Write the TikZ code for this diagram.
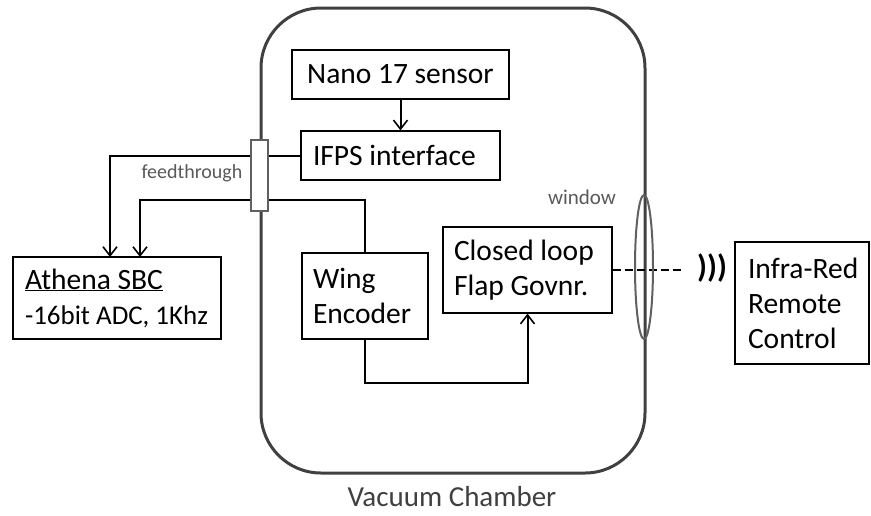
\documentclass[tikz,border=0pt]{standalone}
\usepackage{fontspec}
\setmainfont{Carlito}
\usetikzlibrary{arrows.meta,shapes.geometric}
\definecolor{wallgray}{HTML}{404040}
\definecolor{labelgray}{HTML}{595959}
\definecolor{partgray}{HTML}{606060}
\tikzset{
  unitbox/.style={draw=black, line width=1.2pt, fill=white, inner sep=0pt,
    font=\fontsize{29.5}{35}\selectfont,
    execute at begin node={\spaceskip=0pt\xspaceskip=0pt\hbadness=10000\hfuzz=50pt}},
  wire/.style={draw=black, line width=2pt},
  tip/.style={-{Straight Barb[length=9pt,width=14pt,line width=1.6pt]}},
  smalllabel/.style={text=labelgray, inner sep=0pt},
}
\begin{document}
\begin{tikzpicture}[x=1pt,y=-1pt]
\useasboundingbox (0,0) rectangle (871,515);

% vacuum chamber wall
\draw[wallgray, line width=3pt, rounded corners=60pt] (261,8) rectangle (645,473);
\node[text=wallgray, font=\fontsize{29}{34}\selectfont] (chamberlbl) at (452,497) {Vacuum Chamber};

% units
\node[unitbox, minimum width=217pt, minimum height=49pt] (nano) at (400.5,74.5) {Nano 17 sensor};
\node[unitbox, minimum width=199pt, minimum height=49pt, text width=175pt, align=left] (ifps) at (400.5,155.5) {IFPS interface};
\node[unitbox, minimum width=208pt, minimum height=82pt, text width=184pt, align=left] (athena) at (117,298) {\mbox{\underline{Athena SBC}}\\\mbox{\fontsize{27}{35}\selectfont -16bit ADC, 1Khz}};
\node[unitbox, minimum width=126pt, minimum height=86pt, text width=104pt, align=left] (enc) at (365,296) {\mbox{Wing}\\\mbox{Encoder}};
\node[unitbox, minimum width=169pt, minimum height=86pt, text width=147pt, align=left] (cl) at (527.5,270) {\mbox{Closed loop}\\\mbox{Flap Govnr.}};
\node[unitbox, minimum width=134pt, minimum height=122pt, text width=108pt, align=left] (ir) at (802,303) {\mbox{Infra-Red}\\\mbox{Remote}\\\mbox{Control}};

% free ends of the wiring
\coordinate (a1) at (110,257);
\coordinate (a2) at (140,257);
\coordinate (bend2) at (140,200);

% signal wiring
\draw[wire, tip] (nano.south) -- (ifps.north);
\draw[wire, tip] (ifps.west) -| (a1);
\draw[wire, tip] (enc.north) |- (bend2) -- (a2);
\draw[wire, tip] (enc.south) -- ++(0,43) -| (cl.south);

% feedthrough in the chamber wall
\node[draw=partgray, line width=2pt, fill=white, minimum width=17pt, minimum height=71pt, inner sep=0pt] (ft) at (259.5,175.5) {};
\node[smalllabel, font=\fontsize{20}{24}\selectfont] (ftlbl) at (192,173) {feedthrough};

% IR link through the window
\coordinate (irend) at (682,270);
\draw[line width=2.5pt, dash pattern=on 8pt off 4pt] (cl.east |- irend) -- (irend);
\node[draw=partgray, line width=2pt, ellipse, minimum width=18pt, minimum height=144pt, inner sep=0pt] (win) at (644,267) {};
\node[smalllabel, font=\fontsize{21}{25}\selectfont] (winlbl) at (582,197) {window};
\node[font=\fontsize{32}{36}\selectfont\bfseries, inner sep=0pt] (waves) at (712,268) {)))};
\end{tikzpicture}
\end{document}
